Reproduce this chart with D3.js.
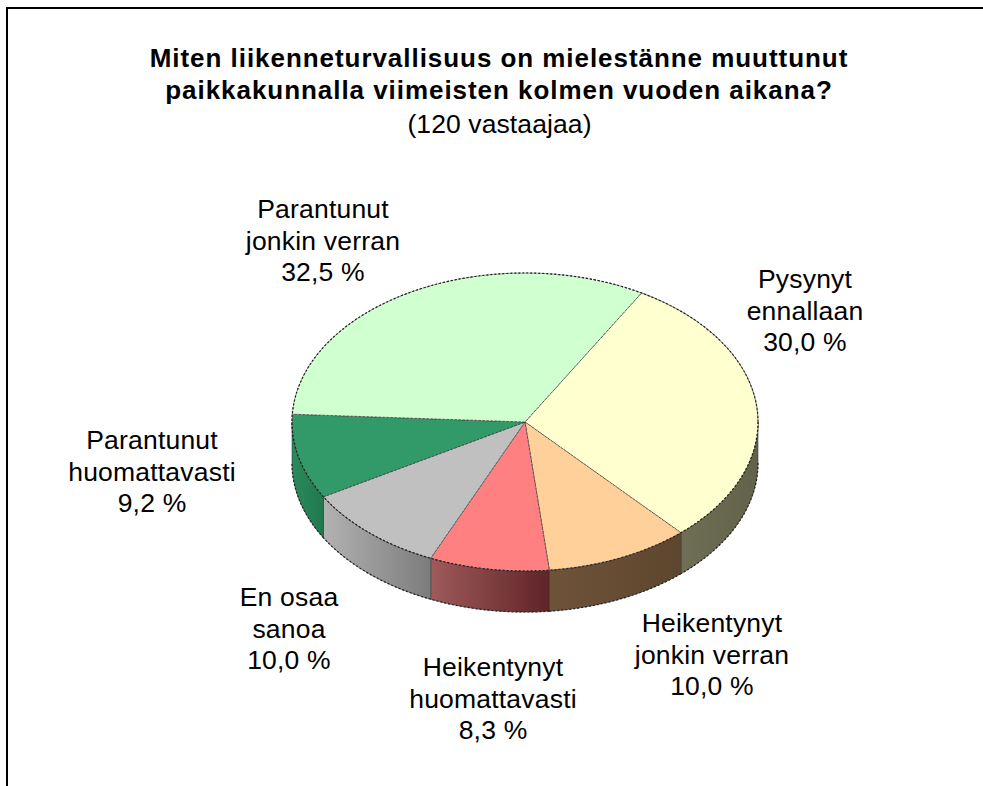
<!DOCTYPE html>
<html>
<head>
<meta charset="utf-8">
<script src="https://cdn.jsdelivr.net/npm/d3@7"></script>
<style>
  html, body { margin: 0; padding: 0; background: #fff; }
  svg { display: block; }
  text { font-family: "Liberation Sans", Arial, sans-serif; fill: #000; }
</style>
</head>
<body>
<div id="chart"></div>
<script>
// Data, clockwise from the boundary at upper right
const categories = ["Pysynyt ennallaan", "Heikentynyt jonkin verran", "Heikentynyt huomattavasti",
                    "En osaa sanoa", "Parantunut huomattavasti", "Parantunut jonkin verran"];
const values     = [30.0, 10.0, 8.3, 10.0, 9.2, 32.5];
const labelLines = [["Pysynyt", "ennallaan", "30,0 %"], ["Heikentynyt", "jonkin verran", "10,0 %"],
                    ["Heikentynyt", "huomattavasti", "8,3 %"], ["En osaa", "sanoa", "10,0 %"],
                    ["Parantunut", "huomattavasti", "9,2 %"], ["Parantunut", "jonkin verran", "32,5 %"]];
const topColors  = ["#ffffd0", "#ffd09a", "#ff8080", "#c0c0c0", "#329a68", "#d0ffd0"];
const sideLight  = ["#6f6f56", "#6e5339", "#a05a5a", "#b2b2b2", "#2a8a5c", "#2a8a5c"];
const sideDark   = ["#62624a", "#5e462e", "#5e2428", "#7c7c7c", "#1f7a4e", "#1f7a4e"];
const titleLines = ["Miten liikenneturvallisuus on mielestänne muuttunut",
                    "paikkakunnalla viimeisten kolmen vuoden aikana?"];
const subtitle   = "(120 vastaajaa)";

// Label anchors
const labelX = [805, 712, 493, 289, 152, 323];
const labelY = [288, 632, 676, 606, 449, 218];

const width = 983, height = 786;
const cx = 525, cy = 422, rx = 233, ry = 149, depth = 41;
const startAngle = 30 * Math.PI / 180;
const titleSize = 26, labelSize = 26.5, lineGap = 31.5;

const svg = d3.select("#chart").append("svg")
  .attr("width", width)
  .attr("height", height);

// Frame: only top and left sides are visible
svg.append("path")
  .attr("d", `M7,${height}V8H${width}`)
  .attr("fill", "none")
  .attr("stroke", "#000")
  .attr("stroke-width", 2);

// Title
svg.selectAll("text.title")
  .data(titleLines)
  .join("text")
    .attr("class", "title")
    .attr("x", 499)
    .attr("y", (_, i) => 67 + i * 32)
    .attr("text-anchor", "middle")
    .attr("font-size", titleSize)
    .attr("font-weight", "bold")
    .attr("letter-spacing", 0.95)
    .text(d => d);

svg.append("text")
  .attr("x", 499.5)
  .attr("y", 133)
  .attr("text-anchor", "middle")
  .attr("font-size", labelSize)
  .attr("letter-spacing", 0.1)
  .text(subtitle);

// Pie layout
const pie = d3.pie()
  .sort(null)
  .startAngle(startAngle)
  .endAngle(startAngle + 2 * Math.PI);
const arcs = pie(values);

const px = a => cx + rx * Math.sin(a);
const py = a => cy - ry * Math.cos(a);

// Side gradients
const defs = svg.append("defs");
arcs.forEach((d, i) => {
  const grad = defs.append("linearGradient")
    .attr("id", `side-${i}`)
    .attr("x1", "0%").attr("x2", "100%")
    .attr("y1", "0%").attr("y2", "0%");
  grad.append("stop").attr("offset", "0%").attr("stop-color", sideLight[i]);
  grad.append("stop").attr("offset", "100%").attr("stop-color", sideDark[i]);
});

// Visible part of the wall is the front half of the ellipse (90deg to 270deg)
const wallLine = d3.line().x(d => d[0]).y(d => d[1]);
const wall = svg.append("g");
const frontHalves = [[Math.PI / 2, 3 * Math.PI / 2], [Math.PI / 2 + 2 * Math.PI, 3 * Math.PI / 2 + 2 * Math.PI]];
arcs.forEach((d, i) => {
  frontHalves.forEach(([lo, hi]) => {
    const a0 = Math.max(d.startAngle, lo), a1 = Math.min(d.endAngle, hi);
    if (a1 <= a0) return;
    const steps = d3.range(0, 41).map(k => a0 + (a1 - a0) * k / 40);
    const pts = steps.map(a => [px(a), py(a)])
      .concat(steps.slice().reverse().map(a => [px(a), py(a) + depth]));
    wall.append("path")
      .attr("d", wallLine(pts) + "Z")
      .attr("fill", `url(#side-${i})`)
      .attr("stroke", "#333")
      .attr("stroke-opacity", 0.55)
      .attr("stroke-width", 1);

    // rough dotted lower rim
    wall.append("path")
      .attr("d", wallLine(steps.map(a => [px(a), py(a) + depth])))
      .attr("fill", "none")
      .attr("stroke", "#222")
      .attr("stroke-width", 1.2)
      .attr("stroke-dasharray", "2,2");
  });
});

// Top face: d3.arc squashed into the ellipse
const arc = d3.arc().innerRadius(0).outerRadius(rx);
const topFace = svg.append("g")
  .attr("transform", `translate(${cx},${cy}) scale(1,${ry / rx})`);

topFace.selectAll("path.slice")
  .data(arcs)
  .join("path")
    .attr("class", "slice")
    .attr("d", arc)
    .attr("fill", (_, i) => topColors[i])
    .attr("stroke", "#3c3c3c")
    .attr("stroke-opacity", 0.75)
    .attr("stroke-width", 1)
    .attr("stroke-dasharray", "3,1")
    .attr("vector-effect", "non-scaling-stroke");

// Dotted rim around the top face
topFace.append("circle")
  .attr("r", rx)
  .attr("fill", "none")
  .attr("stroke", "#222")
  .attr("stroke-width", 1.2)
  .attr("stroke-dasharray", "2,2")
  .attr("vector-effect", "non-scaling-stroke");

// Slice labels
const labels = svg.selectAll("g.label")
  .data(labelLines)
  .join("g")
    .attr("class", "label")
    .attr("transform", (_, i) => `translate(${labelX[i]},${labelY[i]})`);

labels.selectAll("text")
  .data(d => d)
  .join("text")
    .attr("y", (_, i) => i * lineGap)
    .attr("text-anchor", "middle")
    .attr("font-size", labelSize)
    .attr("letter-spacing", 0.2)
    .text(d => d);
</script>
</body>
</html>
